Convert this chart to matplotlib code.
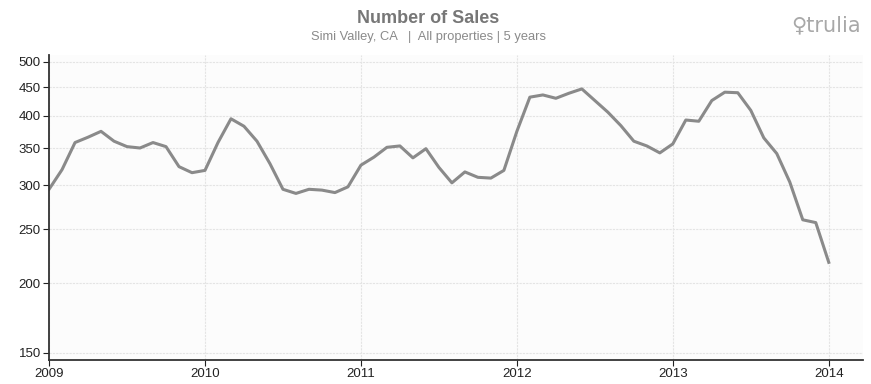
import matplotlib.pyplot as plt
import numpy as np

plt.rcParams['font.family'] = ['Liberation Sans', 'DejaVu Sans']

# monthly sales counts, Jan 2009 .. Jan 2014
sales = [295, 320, 358, 366, 375, 360, 352, 350, 358, 352, 324, 316,
         319, 358, 395, 383, 360, 328, 295, 290, 295, 294, 291, 298,
         326, 337, 351, 353, 336, 349, 323, 303, 317, 310, 309, 319,
         375, 432, 436, 430, 439, 447, 426, 406, 384, 360, 353, 343,
         356, 393, 391, 426, 441, 440, 409, 365, 342, 304, 260, 257,
         218]
years = [2009, 2010, 2011, 2012, 2013, 2014]
yticks = [150, 200, 250, 300, 350, 400, 450, 500]

months = np.arange(len(sales))

fig = plt.figure(figsize=(8.71, 3.84), dpi=100)
ax = fig.add_axes([0.0563, 0.0625, 0.934, 0.795])
ax.set_facecolor('#fcfcfc')

ax.plot(months, sales, color='#8a8a8a', lw=2.2, solid_joinstyle='round')

ax.set_yscale('log')
ax.set_ylim(145.5, 515)
ax.set_xlim(0, 62.6)
ax.set_yticks(yticks)
ax.set_yticklabels([str(v) for v in yticks])
ax.yaxis.set_minor_locator(plt.NullLocator())
ax.set_xticks([(y - 2009) * 12 for y in years])
ax.set_xticklabels([str(y) for y in years])

ax.tick_params(axis='both', labelsize=9.5, colors='#222222', length=4, width=0.8)
ax.tick_params(axis='x', pad=2)
ax.tick_params(axis='y', pad=2)

for s in ['top', 'right']:
    ax.spines[s].set_visible(False)
for s in ['left', 'bottom']:
    ax.spines[s].set_color('#333333')
    ax.spines[s].set_linewidth(1.3)

ax.grid(True, color='#e4e4e4', lw=0.8, ls=(0, (2, 1)))
ax.set_axisbelow(True)

fig.text(0.492, 0.952, 'Number of Sales', ha='center', va='center',
         fontsize=13, fontweight='bold', color='#777777')
fig.text(0.492, 0.903, 'Simi Valley, CA   |  All properties | 5 years', ha='center',
         va='center', fontsize=9.3, color='#8a8a8a')
fig.text(0.988, 0.935, '\u2640trulia', ha='right', va='center', fontsize=15,
         color='#a8a8a8', family=['DejaVu Sans'])

fig.savefig('out.png', dpi=100)
